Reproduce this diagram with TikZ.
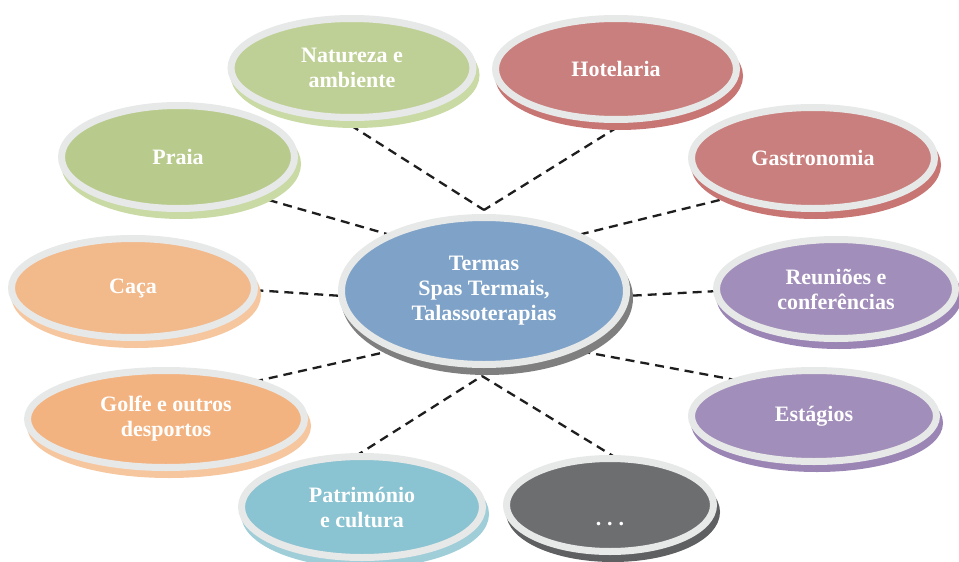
\documentclass[tikz,border=0pt]{standalone}
\usepackage{fontspec}
\setmainfont{Liberation Serif}
\usetikzlibrary{shapes.geometric,shadows,backgrounds}

\definecolor{ring}{HTML}{E7E8E8}
\definecolor{sage}{HTML}{BFD096}
\definecolor{sageshade}{HTML}{C9DAA5}
\definecolor{moss}{HTML}{B8CB8C}
\definecolor{rose}{HTML}{C97F7D}
\definecolor{roseshade}{HTML}{C87674}
\definecolor{lilac}{HTML}{A28EBA}
\definecolor{lilacshade}{HTML}{9A85B5}
\definecolor{peach}{HTML}{F2B98B}
\definecolor{apricot}{HTML}{F3B380}
\definecolor{peachshade}{HTML}{F6C69F}
\definecolor{teal}{HTML}{8AC3D1}
\definecolor{tealshade}{HTML}{9FCED9}
\definecolor{slate}{HTML}{6D6E70}
\definecolor{slateshade}{HTML}{5F6062}
\definecolor{hubblue}{HTML}{7FA3C8}
\definecolor{hubshade}{HTML}{7F7F7F}
\definecolor{ink}{HTML}{1E1E1E}

\tikzset{
  bubble/.style 2 args={
    ellipse, draw=ring, line width=7pt, fill=#1,
    inner sep=0pt, outer sep=0pt, align=center, text=white,
    font=\bfseries\fontsize{22}{25}\selectfont,
    general shadow={fill=#2, draw=#2, line width=7pt,
      shadow xshift=3pt, shadow yshift=-7pt}},
  link/.style={draw=ink, line width=2.3pt, dash pattern=on 9pt off 6pt}
}

\begin{document}
\begin{tikzpicture}[x=1pt, y=-1pt]
\useasboundingbox (0,0) rectangle (959,562);

% hub in the middle
\node[bubble={hubblue}{hubshade}, minimum width=285pt, minimum height=147pt]
  (hub) at (484,291) {Termas\\Spas Termais,\\Talassoterapias};

% surrounding bubbles
\node[bubble={sage}{sageshade}, minimum width=242pt, minimum height=99pt]
  (nat) at (352,68) {Natureza e\\ambiente};
\node[bubble={rose}{roseshade}, minimum width=241pt, minimum height=101pt]
  (hot) at (616,69) {Hotelaria};
\node[bubble={moss}{sageshade}, minimum width=233pt, minimum height=103pt]
  (praia) at (178,157) {Praia};
\node[bubble={rose}{roseshade}, minimum width=243pt, minimum height=101pt]
  (gas) at (813,158) {Gastronomia};
\node[bubble={peach}{peachshade}, minimum width=243pt, minimum height=99pt]
  (caca) at (133,288) {Caça};
\node[bubble={lilac}{lilacshade}, minimum width=239pt, minimum height=99pt]
  (reu) at (836,289) {Reuniões e\\conferências};
\node[bubble={apricot}{peachshade}, minimum width=277pt, minimum height=97pt]
  (golfe) at (166,419) {Golfe e outros\\desportos};
\node[bubble={lilac}{lilacshade}, minimum width=245pt, minimum height=91pt]
  (est) at (814,416) {Estágios};
\node[bubble={teal}{tealshade}, minimum width=241pt, minimum height=101pt]
  (pat) at (362,507) {Património\\e cultura};
\node[bubble={slate}{slateshade}, minimum width=207pt, minimum height=93pt,
  text height=40pt, text depth=0pt]
  (etc) at (610,505) {.\hspace{6pt}.\hspace{6pt}.};

% meeting points of the dashed links above and below the hub
\coordinate (apex) at (484,210);
\coordinate (base) at (482,376);

\begin{scope}[on background layer]
  \draw[link] (nat.-106) -- (apex);
  \draw[link] (hot.-74) -- (apex);
  \draw[link] (praia.-27) -- (hub.149);
  \draw[link] (gas.-154) -- (hub.31);
  \draw[link] (caca.-1) -- (hub.182);
  \draw[link] (reu.181) -- (hub.-2);
  \draw[link] (golfe.23) -- (hub.-146);
  \draw[link] (est.155) -- (hub.-34);
  \draw[link] (pat.98) -- (base);
  \draw[link] (etc.81) -- (base);
\end{scope}
\end{tikzpicture}
\end{document}
